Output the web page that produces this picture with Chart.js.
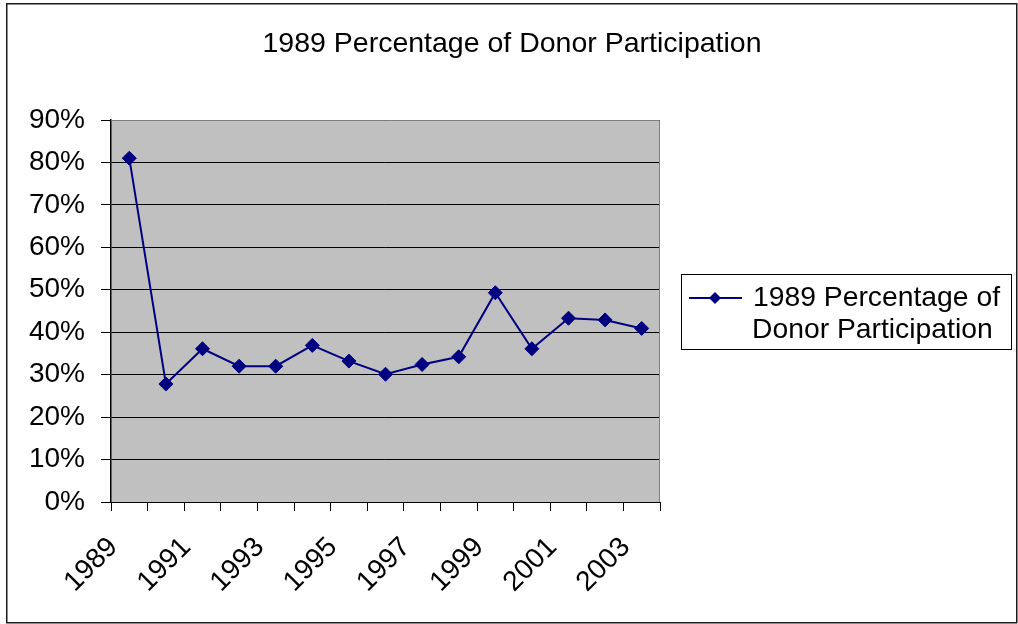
<!DOCTYPE html>
<html>
<head>
<meta charset="utf-8">
<script src="https://cdn.jsdelivr.net/npm/chart.js@4/dist/chart.umd.min.js"></script>
<style>
  html, body { margin: 0; padding: 0; background: #ffffff; }
  canvas { display: block; }
</style>
</head>
<body>
<canvas id="c" width="1018" height="624"></canvas>
<script>
const years = ['1989','1990','1991','1992','1993','1994','1995','1996','1997','1998','1999','2000','2001','2002','2003'];
const participation = [81.0, 27.8, 36.1, 32.0, 32.0, 36.9, 33.2, 30.1, 32.4, 34.2, 49.3, 36.1, 43.3, 42.9, 40.9];
const yTicks = [0, 10, 20, 30, 40, 50, 60, 70, 80, 90];
const chartTitle = '1989 Percentage of Donor Participation';
const seriesName = '1989 Percentage of Donor Participation';
const legendLines = ['1989 Percentage of', 'Donor Participation'];

const FONT = '"Liberation Sans", Arial, sans-serif';
const NAVY = '#000080';

const framePlugin = {
  id: 'frame',
  beforeDraw(chart) {
    const ctx = chart.ctx;
    const a = chart.chartArea;
    ctx.save();
    ctx.fillStyle = '#ffffff';
    ctx.fillRect(0, 0, chart.width, chart.height);
    ctx.fillStyle = '#C0C0C0';
    ctx.fillRect(a.left, a.top, a.right - a.left, a.bottom - a.top);
    ctx.restore();
  },
  afterDraw(chart) {
    const ctx = chart.ctx;
    const a = chart.chartArea;
    ctx.save();
    // plot area border (top & right)
    ctx.strokeStyle = '#808080';
    ctx.lineWidth = 1;
    ctx.beginPath();
    ctx.moveTo(a.left, a.top + 0.5);
    ctx.lineTo(a.right - 0.5, a.top + 0.5);
    ctx.lineTo(a.right - 0.5, a.bottom);
    ctx.stroke();
    // outer border
    ctx.strokeStyle = '#1a1a1a';
    ctx.lineWidth = 1.5;
    ctx.strokeRect(6.75, 3.75, 1010, 619);
    // title
    ctx.fillStyle = '#000000';
    ctx.font = '28.5px ' + FONT;
    ctx.textAlign = 'center';
    ctx.textBaseline = 'alphabetic';
    ctx.fillText(chartTitle, 512, 52);
    // legend
    const lx = 681, ly = 274, lw = 330, lh = 75;
    ctx.fillStyle = '#ffffff';
    ctx.fillRect(lx, ly, lw, lh);
    ctx.strokeStyle = '#000000';
    ctx.lineWidth = 1;
    ctx.strokeRect(lx + 0.5, ly + 0.5, lw, lh);
    const ds = chart.data.datasets[0];
    ctx.strokeStyle = ds.borderColor;
    ctx.lineWidth = 2;
    ctx.beginPath();
    ctx.moveTo(689, 298);
    ctx.lineTo(742, 298);
    ctx.stroke();
    ctx.fillStyle = ds.pointBackgroundColor;
    ctx.beginPath();
    ctx.moveTo(715, 292);
    ctx.lineTo(721, 298);
    ctx.lineTo(715, 304);
    ctx.lineTo(709, 298);
    ctx.closePath();
    ctx.fill();
    ctx.fillStyle = '#000000';
    ctx.font = '28.3px ' + FONT;
    ctx.textAlign = 'left';
    ctx.fillText(legendLines[0], 753, 305.5);
    ctx.fillText(legendLines[1], 752, 337.5);
    ctx.restore();
  }
};

new Chart(document.getElementById('c'), {
  type: 'line',
  data: {
    labels: years,
    datasets: [{
      label: seriesName,
      data: participation,
      borderColor: NAVY,
      backgroundColor: NAVY,
      pointBackgroundColor: NAVY,
      pointBorderColor: NAVY,
      borderWidth: 2,
      pointStyle: 'rectRot',
      pointRadius: 7,
      pointBorderWidth: 1,
      tension: 0,
      fill: false
    }]
  },
  options: {
    responsive: false,
    animation: false,
    devicePixelRatio: 1,
    layout: { padding: { left: 8, right: 358, top: 120, bottom: 0 } },
    plugins: {
      legend: { display: false },
      tooltip: { enabled: false },
      title: { display: false }
    },
    scales: {
      x: {
        type: 'category',
        offset: true,
        afterFit(scale) { scale.height = 122; },
        border: { display: true, color: '#000000', width: 1 },
        grid: {
          offset: true,
          drawOnChartArea: false,
          drawTicks: true,
          tickLength: 9,
          color: '#000000',
          lineWidth: 1
        },
        ticks: {
          autoSkip: false,
          minRotation: 45,
          maxRotation: 45,
          padding: 20,
          labelOffset: -16,
          color: '#000000',
          font: { family: FONT, size: 28 },
          callback(value, index) { return index % 2 === 0 ? this.getLabelForValue(value) : ''; }
        }
      },
      y: {
        min: yTicks[0],
        max: yTicks[yTicks.length - 1],
        afterFit(scale) { scale.width = 103; },
        afterBuildTicks(scale) { scale.ticks = yTicks.map(v => ({ value: v })); },
        border: { display: true, color: '#000000', width: 1.5 },
        grid: {
          drawOnChartArea: true,
          drawTicks: true,
          tickLength: 10,
          color: '#000000',
          lineWidth: 1
        },
        ticks: {
          padding: 16,
          color: '#000000',
          font: { family: FONT, size: 28 },
          callback(v) { return v + '%'; }
        }
      }
    }
  },
  plugins: [framePlugin]
});
</script>
</body>
</html>
